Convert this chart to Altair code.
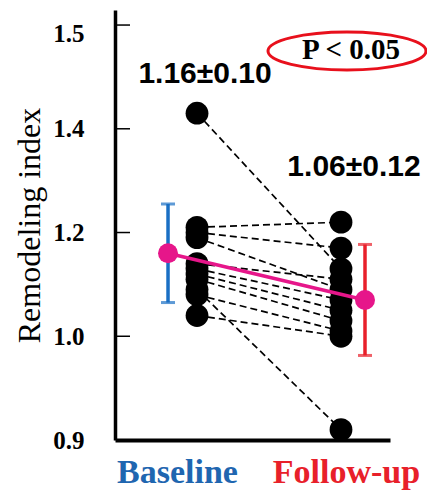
import altair as alt
import pandas as pd

groups = ["Baseline", "Follow-up"]
baseline = [1.43, 1.21, 1.20, 1.19, 1.14, 1.13, 1.12, 1.11, 1.09, 1.08, 1.04]
followup = [1.13, 1.22, 1.17, 1.09, 1.11, 1.07, 1.05, 1.03, 0.82, 1.01, 1.00]
means = [1.16, 1.07]
lower = [1.065, 0.963]
upper = [1.255, 1.177]
stat_labels = ["1.16\u00b10.10", "1.06\u00b10.12"]
p_label = "P < 0.05"
y_ticks = [0.8, 1.0, 1.2, 1.4, 1.6]
y_tick_labels = ["0.9", "1.0", "1.2", "1.4", "1.5"]

group_colors = ["#1a6fc4", "#e8202a"]
label_colors = ["#1f66b0", "#e8202a"]
mean_color = "#e6168a"
mean_offsets = [-29, 24]

W, H = 275, 430

long_rows = []
for i, (b, f) in enumerate(zip(baseline, followup)):
    long_rows.append({"subject": i, "group": groups[0], "value": b})
    long_rows.append({"subject": i, "group": groups[1], "value": f})
long_df = pd.DataFrame(long_rows)

stats_df = pd.DataFrame({"group": groups, "mean": means, "lower": lower, "upper": upper})
mean_pair = pd.DataFrame({"m0": [means[0]], "m1": [means[1]]})

xscale = alt.Scale(type="point", domain=groups, padding=0.455, align=0.626)
yscale = alt.Scale(domain=[0.8, 1.629], nice=False, zero=False)

label_map = " : ".join(
    f"datum.value == {v} ? '{t}'" for v, t in zip(y_ticks, y_tick_labels)
) + " : ''"

x_axis = alt.Axis(
    title=None, ticks=False, grid=False, domainColor="black", domainWidth=4,
    labelFont="Liberation Serif", labelFontWeight="bold", labelFontSize=34,
    labelPadding=15, labelAngle=0,
    labelColor={"condition": {"test": "datum.value == 'Baseline'", "value": label_colors[0]}, "value": label_colors[1]},
    labelOffset={"condition": {"test": "datum.value == 'Baseline'", "value": -20}, "value": 5},
)
y_axis = alt.Axis(
    title="Remodeling index", values=y_ticks, labelExpr=label_map,
    ticks=False, grid=False, domainColor="black", domainWidth=3.5,
    labelFont="Liberation Serif", labelFontWeight="bold", labelFontSize=25,
    labelPadding=31, labelColor="black",
    labelOffset={"condition": {"test": "datum.value == 1.6", "value": 8},
                 "value": 0},
    titleFont="Liberation Serif", titleFontWeight="normal", titleFontSize=32,
    titleColor="black", titlePadding=6,
)


def X(field):
    return alt.X(field, scale=xscale, axis=x_axis)


def Y(field):
    return alt.Y(field, scale=yscale, axis=y_axis)


lines = alt.Chart(long_df).mark_line(color="black", strokeWidth=1.7, strokeDash=[7, 4]).encode(
    x=X("group:N"), y=Y("value:Q"), detail="subject:N",
)

dots = alt.Chart(long_df).mark_circle(color="black", opacity=1, size=520).encode(
    x=X("group:N"), y=Y("value:Q"),
)

ticks_df = pd.DataFrame({"v": y_ticks[1:]})
ticks = alt.Chart(ticks_df).mark_rule(color="black", strokeWidth=1.5).encode(
    y=Y("v:Q"), x=alt.value(0), x2=alt.value(15)
)

mean_line = alt.Chart(mean_pair).mark_rule(
    color=mean_color, strokeWidth=3.5, xOffset=mean_offsets[0], x2Offset=mean_offsets[1]
).encode(
    x=alt.datum(groups[0], scale=xscale, axis=x_axis, type="nominal"),
    x2=alt.datum(groups[1]),
    y=Y("m0:Q"),
    y2="m1:Q",
)

layers = [lines, dots, ticks]
for i, g in enumerate(groups):
    sub = stats_df[stats_df["group"] == g]
    base = alt.Chart(sub)
    bar = base.mark_rule(color=group_colors[i], strokeWidth=3.5, xOffset=mean_offsets[i]).encode(
        x=X("group:N"), y=Y("lower:Q"), y2="upper:Q",
    )
    cap_lo = base.mark_tick(color=group_colors[i], thickness=3, size=14, xOffset=mean_offsets[i]).encode(
        x=X("group:N"), y=Y("lower:Q"),
    )
    cap_hi = base.mark_tick(color=group_colors[i], thickness=3, size=14, xOffset=mean_offsets[i]).encode(
        x=X("group:N"), y=Y("upper:Q"),
    )
    layers += [bar, cap_lo, cap_hi]

layers.append(mean_line)
for i, g in enumerate(groups):
    sub = stats_df[stats_df["group"] == g]
    layers.append(
        alt.Chart(sub).mark_circle(color=mean_color, opacity=1, size=400, xOffset=mean_offsets[i]).encode(
            x=X("group:N"), y=Y("mean:Q"),
        )
    )

text_y = [64, 157]
text_dx = [8, 13]
for i, g in enumerate(groups):
    tdf = pd.DataFrame({"group": [g], "label": [stat_labels[i]]})
    layers.append(
        alt.Chart(tdf).mark_text(
            font="Liberation Sans", fontWeight="bold", fontSize=30, color="black",
            dx=text_dx[i], baseline="middle", align="center",
        ).encode(
            x=X("group:N"),
            y=alt.value(text_y[i]),
            text="label:N",
        )
    )

pdf = pd.DataFrame({"label": [p_label]})
layers.append(
    alt.Chart(pdf).mark_text(
        font="Liberation Serif", fontWeight="bold", fontSize=29, color="black",
        baseline="middle", align="center",
    ).encode(x=alt.value(236), y=alt.value(40), text="label:N")
)
ellipse_path = "M -1 0 A 1 0.24 0 1 1 1 0 A 1 0.24 0 1 1 -1 0 Z"
layers.append(
    alt.Chart(pdf).mark_point(
        shape=ellipse_path, filled=False, color="#e8101c", strokeWidth=3, size=158 * 158, opacity=1,
    ).encode(x=alt.value(232), y=alt.value(41))
)

chart = alt.layer(*layers).properties(
    width=W, height=H,
    autosize=alt.AutoSizeParams(type="none"),
    padding={"left": 115, "top": 10, "right": 37, "bottom": 54},
    background="white",
).configure_view(stroke=None)

chart.save("out.html", embed_options={"renderer": "svg", "actions": False})
